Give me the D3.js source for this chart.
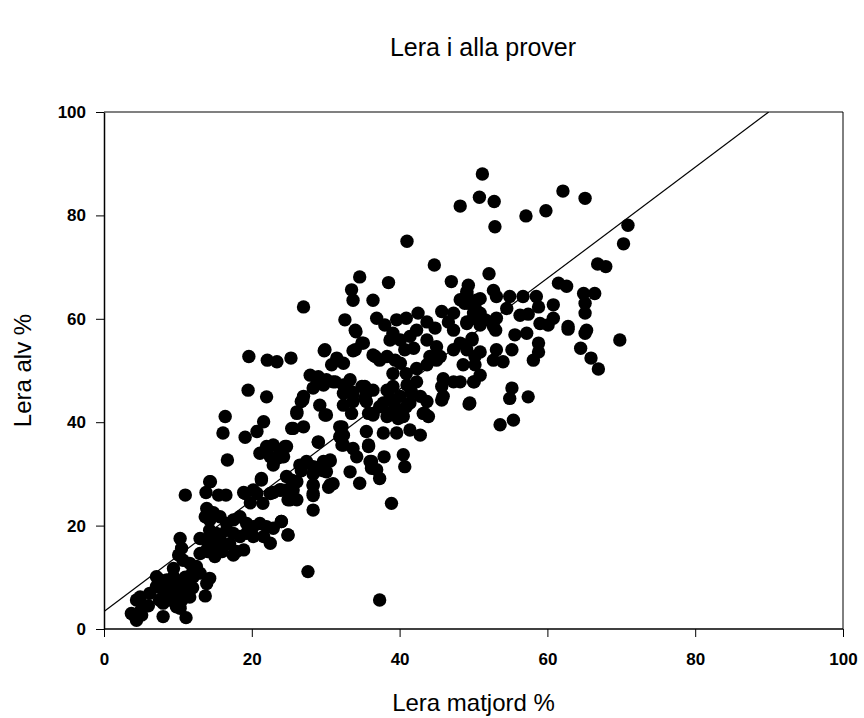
<!DOCTYPE html>
<html>
<head>
<meta charset="utf-8">
<script src="https://cdn.jsdelivr.net/npm/d3@7"></script>
<style>
  html, body { margin: 0; padding: 0; background: #fff; }
  svg { display: block; }
  text { font-family: "Liberation Sans", Arial, sans-serif; fill: #000; }
</style>
</head>
<body>
<svg id="chart" width="864" height="718"></svg>
<script>
// ---- data (Lera matjord %, Lera alv %) ----
const chartTitle = "Lera i alla prover";
const xTitle = "Lera matjord %";
const yTitle = "Lera alv %";
const xTicks = [0, 20, 40, 60, 80, 100];
const yTicks = [0, 20, 40, 60, 80, 100];
const lineIntercept = 3.4;
const lineSlope = 1.074;
const samples = [
[11.0,25.9],[13.8,26.4],[14.3,28.5],[15.5,25.9],[16.5,25.9],[18.9,26.4],[20.2,26.9],[21.3,28.8],[19.8,24.4],[21.5,24.3],
[22.9,26.4],[24.0,26.9],[25.2,25.0],[13.9,23.3],[13.7,21.7],[14.8,22.5],[15.7,21.7],[14.3,21.1],[16.6,20.4],[17.5,21.1],
[18.4,21.7],[19.3,20.4],[20.2,19.8],[21.1,20.4],[22.0,19.8],[22.9,19.5],[24.0,20.8],[22.5,16.6],[24.9,18.2],[21.6,17.9],
[18.9,15.3],[17.5,14.3],[17.9,15.0],[15.7,17.9],[16.6,19.1],[17.5,18.5],[18.4,17.9],[19.3,18.5],[20.2,17.9],[14.3,19.1],
[15.2,18.5],[13.0,17.5],[13.9,17.2],[14.8,16.6],[15.2,15.3],[13.9,15.3],[13.0,14.6],[10.3,17.5],[10.5,15.6],[10.1,14.3],
[10.7,13.3],[11.6,12.7],[9.4,11.7],[12.5,12.1],[12.1,10.1],[13.0,10.8],[14.3,9.8],[13.9,8.8],[7.1,8.2],[8.0,7.5],
[8.9,8.2],[9.8,8.8],[10.7,8.2],[10.3,6.9],[11.2,6.6],[6.2,6.9],[4.9,6.2],[4.4,5.6],[7.5,5.6],[8.0,5.0],
[8.9,5.6],[9.8,4.3],[10.3,4.0],[11.6,6.2],[13.7,6.4],[3.7,3.0],[4.2,2.4],[4.4,1.7],[5.1,2.7],[4.9,3.4],
[8.0,2.4],[11.1,2.2],[5.2,4.2],[7.1,10.1],[7.6,9.5],[8.5,9.5],[9.4,10.1],[14,15],[15,14],[16,15],
[16,16],[17,16.5],[12,11],[11,10],[9,7],[8,6],[6,4.5],[12,8],[11,8.5],[9.5,6],
[10.5,5.5],
[19.6,52.7],[22.1,52.0],[23.4,51.7],[25.3,52.4],[29.8,53.8],[33.7,53.8],[34.9,55.3],[34.1,57.5],[31.5,52.4],[32.4,51.4],
[30.8,51.1],[36.7,52.7],[27.9,49.1],[28.8,48.2],[28.3,46.6],[29.7,47.2],[31.3,47.8],[32.4,47.2],[33.3,48.2],[32.8,45.9],
[33.7,45.3],[34.9,46.9],[35.5,45.6],[36.4,46.2],[35.3,44.6],[19.5,46.2],[22.0,44.9],[26.9,44.3],[26.1,42.0],[29.2,43.3],
[29.9,41.4],[32.4,43.3],[33.5,41.7],[16.4,41.1],[16.1,37.9],[21.6,40.1],[20.7,38.2],[19.1,37.1],[25.6,38.8],[27.0,39.1],
[29.0,36.2],[31.9,39.1],[31.9,37.2],[32.4,35.6],[35.5,38.2],[35.8,35.6],[36.4,41.4],[33.7,34.9],[34.2,33.3],[36.2,32.4],
[36.9,30.8],[22.0,35.3],[22.9,35.6],[23.8,34.6],[24.7,35.3],[21.1,34.0],[22.5,33.3],[23.4,33.0],[22.9,31.7],[24.3,33.3],
[16.7,32.7],[21.3,29.1],[14.4,28.5],[26.5,31.7],[27.4,32.4],[28.3,31.4],[29.2,30.8],[30.1,30.4],[30.6,32.7],[29.7,32.4],
[24.7,29.5],[26.1,28.5],[25.6,26.9],[33.3,30.4],[34.6,28.2],[28.3,27.9],[30.6,27.9],[28.3,26.2],[19.1,26.2],[20.7,26.2],
[22.5,26.2],[23.8,26.9],
[44.7,70.4],[27.0,62.3],[34.6,68.1],[38.5,67.0],[47.0,67.2],[49.3,66.5],[49.1,64.9],[48.8,63.0],[50.4,63.6],[33.5,65.6],
[33.7,63.6],[36.4,63.6],[32.6,59.8],[34.0,57.8],[36.9,60.1],[38.0,58.8],[39.1,57.2],[39.6,59.8],[40.9,60.1],[42.5,61.1],
[43.7,59.4],[44.8,58.2],[45.7,61.4],[47.3,61.1],[46.6,59.4],[47.3,57.8],[49.1,59.4],[50.0,60.1],[49.8,56.2],[49.1,54.0],
[50.2,52.7],[38.7,55.9],[40.1,55.9],[41.4,56.6],[42.3,57.8],[40.7,54.0],[41.9,54.3],[43.7,55.9],[45.0,54.6],[44.1,52.7],
[45.5,52.7],[47.3,54.0],[48.2,55.3],[29.9,54.0],[34.0,54.0],[35.1,55.3],[36.4,53.0],[37.3,52.0],[38.3,52.7],[39.4,52.0],
[40.1,51.4],[39.1,49.4],[40.9,49.4],[42.3,50.4],[43.7,51.1],[45.0,52.0],[45.9,48.4],[47.3,47.8],[45.7,46.9],[45.9,45.0],
[49.5,43.7],[50.0,47.8],[50.9,49.1],[29.0,48.8],[30.1,48.2],[31.0,47.8],[32.4,45.6],[33.5,45.9],[33.7,44.0],[35.3,46.9],
[38.3,46.2],[39.1,46.9],[40.1,45.0],[41.0,47.2],[41.6,45.9],[42.3,47.8],[42.8,45.0],[41.4,43.7],[38.7,44.6],[37.8,43.7],
[27.0,45.0],[35.8,41.7],[37.3,43.0],[38.5,41.7],[39.6,42.4],[40.5,41.1],[43.7,44.0],[43.4,41.7],[41.0,75.0],
[51.2,88.0],[50.8,83.5],[52.8,82.7],[48.2,81.8],[52.9,77.8],[57.1,79.9],[59.8,80.9],[62.1,84.7],[65.1,83.3],[70.9,78.1],
[70.3,74.5],[66.8,70.6],[67.9,70.1],[52.1,68.7],[49.1,65.3],[48.2,63.7],[49.3,63.0],[50.9,63.9],[52.7,65.5],[53.1,64.3],
[54.9,64.3],[56.7,64.3],[58.5,64.3],[61.5,66.9],[62.6,66.3],[64.9,64.9],[66.4,64.9],[65.1,63.0],[65.1,61.1],[54.5,62.0],
[56.3,60.7],[57.4,60.9],[58.8,62.3],[60.8,62.7],[60.8,60.1],[59.0,59.1],[60.1,58.8],[50.0,61.1],[51.6,59.8],[53.1,60.1],
[49.1,59.1],[50.9,58.8],[52.7,58.5],[62.8,58.5],[65.3,57.8],
[69.8,55.9],[62.8,58.0],[65.1,57.2],[64.5,54.3],[65.9,52.4],[66.9,50.3],[58.8,55.3],[58.8,53.6],[58.1,52.0],[57.2,57.2],
[55.6,56.9],[55.2,54.0],[54.0,51.7],[52.7,52.0],[53.1,54.0],[50.9,53.6],[53.0,57.8],[49.8,55.9],[48.6,51.1],[50.2,51.1],
[50.9,61.1],[50.2,62.4],[50.1,47.8],[48.2,47.8],[49.4,43.5],[55.2,46.6],[54.9,44.6],[57.4,44.9],[53.6,39.5],[55.4,40.4],
[37.3,5.6],[27.6,11.1],[38.9,24.3],[24.9,18.2],[24.0,20.8],[28.3,23.0],[24.9,25.0],[26.1,25.0],[24.7,26.9],[23.8,26.9],
[25.4,28.8],[26.7,30.6],[28.3,30.0],[28.3,27.7],[28.3,25.8],[30.4,27.4],[31.0,28.1],[29.7,30.6],[30.6,32.5],[29.0,36.1],
[29.0,31.3],[35.8,35.3],[36.0,32.4],[36.2,31.1],[37.3,29.1],[37.9,33.3],[40.5,33.7],[40.7,31.4],[32.2,39.1],[32.4,37.5],
[32.2,35.6],[37.8,37.9],[39.6,37.9],[41.4,38.5],[42.8,37.5],[36.4,41.7],[38.3,41.1],[39.8,40.7],[39.4,43.0],[40.9,43.0],
[43.2,41.7],[43.9,41.1],[45.7,44.3],[26.1,41.7],[26.7,44.0],[30.1,41.4],[35.5,44.0],[25.4,38.8],[24.5,35.3],[24.0,33.3]
];

// ---- layout ----
const W = 864, H = 718;
const plot = { left: 104, right: 843, top: 112, bottom: 629 };
const svg = d3.select("#chart");

const x = d3.scaleLinear().domain([0, 100]).range([plot.left, plot.right]);
const y = d3.scaleLinear().domain([0, 100]).range([plot.bottom, plot.top]);

// frame: top (gray) and right
svg.append("line")
  .attr("x1", plot.left).attr("x2", plot.right)
  .attr("y1", plot.top).attr("y2", plot.top)
  .attr("stroke", "#808080").attr("stroke-width", 2);
svg.append("line")
  .attr("x1", plot.right).attr("x2", plot.right)
  .attr("y1", plot.top).attr("y2", plot.bottom)
  .attr("stroke", "#000").attr("stroke-width", 1);

// points
const clipId = "plotclip";
svg.append("clipPath").attr("id", clipId).append("rect")
  .attr("x", plot.left).attr("y", plot.top)
  .attr("width", plot.right - plot.left).attr("height", plot.bottom - plot.top);

svg.append("g").selectAll("circle").data(samples).join("circle")
  .attr("cx", d => x(d[0]))
  .attr("cy", d => y(d[1]))
  .attr("r", 6.7)
  .attr("fill", "#000");

// regression line, clipped to plot
const xEnd = (100 - lineIntercept) / lineSlope;
svg.append("line")
  .attr("clip-path", `url(#${clipId})`)
  .attr("x1", x(0)).attr("y1", y(lineIntercept))
  .attr("x2", x(xEnd)).attr("y2", y(lineIntercept + lineSlope * xEnd))
  .attr("stroke", "#000").attr("stroke-width", 1.2);

// axes
const xAxis = d3.axisBottom(x).tickValues(xTicks).tickSize(8).tickPadding(16).tickSizeOuter(0);
const yAxis = d3.axisLeft(y).tickValues(yTicks).tickSize(8).tickPadding(10).tickSizeOuter(0);

const gx = svg.append("g").attr("transform", `translate(0,${plot.bottom})`).call(xAxis);
const gy = svg.append("g").attr("transform", `translate(${plot.left},0)`).call(yAxis);

[gx, gy].forEach(g => {
  g.select(".domain").attr("stroke", "#000").attr("stroke-width", 1.5);
  g.selectAll(".tick line").attr("stroke", "#000").attr("stroke-width", 1);
  g.selectAll(".tick text")
    .attr("font-family", "'Liberation Sans', Arial, sans-serif")
    .attr("font-size", 17).attr("font-weight", "bold").attr("fill", "#000");
});
gx.select(".domain").attr("d", `M${plot.left},0H${plot.right}`);

// titles
svg.append("text")
  .attr("x", 483).attr("y", 56)
  .attr("text-anchor", "middle")
  .attr("font-size", 25)
  .text(chartTitle);

svg.append("text")
  .attr("x", (plot.left + plot.right) / 2).attr("y", 711)
  .attr("text-anchor", "middle")
  .attr("font-size", 24)
  .text(xTitle);

svg.append("text")
  .attr("transform", `translate(31,${(plot.top + plot.bottom) / 2}) rotate(-90)`)
  .attr("text-anchor", "middle")
  .attr("font-size", 24)
  .text(yTitle);
</script>
</body>
</html>
